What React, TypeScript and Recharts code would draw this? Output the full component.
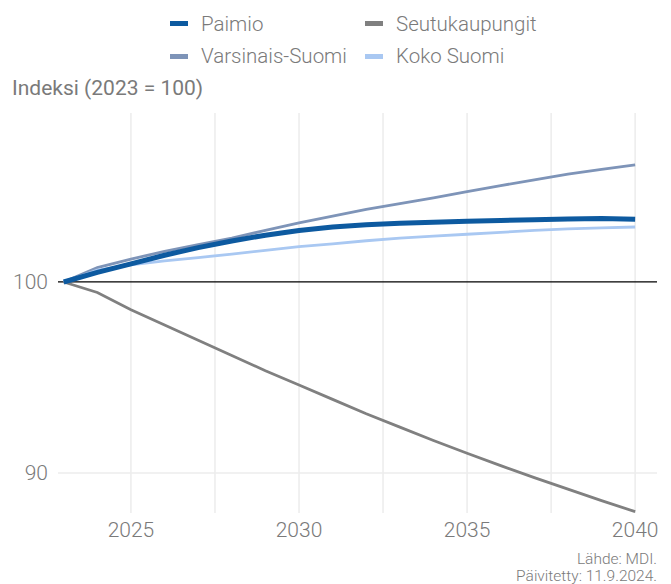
import React from "react";
import { LineChart, Line, XAxis, YAxis, ReferenceLine } from "recharts";

const years = [2023, 2024, 2025, 2026, 2027, 2028, 2029, 2030, 2031, 2032, 2033, 2034, 2035, 2036, 2037, 2038, 2039, 2040];
const paimio = [100, 100.5, 100.95, 101.4, 101.8, 102.15, 102.45, 102.7, 102.88, 103.0, 103.08, 103.13, 103.18, 103.22, 103.26, 103.3, 103.33, 103.28];
const seutukaupungit = [100, 99.45, 98.55, 97.75, 96.95, 96.15, 95.35, 94.6, 93.85, 93.1, 92.4, 91.7, 91.03, 90.38, 89.75, 89.15, 88.55, 87.97];
const varsinaisSuomi = [100, 100.75, 101.2, 101.6, 101.95, 102.3, 102.7, 103.1, 103.45, 103.8, 104.1, 104.4, 104.73, 105.05, 105.35, 105.65, 105.9, 106.13];
const kokoSuomi = [100, 100.62, 100.9, 101.1, 101.28, 101.46, 101.66, 101.85, 102.0, 102.16, 102.3, 102.4, 102.5, 102.6, 102.7, 102.78, 102.83, 102.88];

const xTicks = [2025, 2030, 2035, 2040];
const xGrid = [2025, 2027.5, 2030, 2032.5, 2035, 2037.5, 2040];
const yTicks = [90, 100];

const series = [
  { key: "paimio", name: "Paimio", color: "#0d5aa0" },
  { key: "seutukaupungit", name: "Seutukaupungit", color: "#808080" },
  { key: "varsinaisSuomi", name: "Varsinais-Suomi", color: "#7e94b8" },
  { key: "kokoSuomi", name: "Koko Suomi", color: "#a9c8f2" },
];

const data = years.map((y, i) => ({
  year: y,
  paimio: paimio[i],
  seutukaupungit: seutukaupungit[i],
  varsinaisSuomi: varsinaisSuomi[i],
  kokoSuomi: kokoSuomi[i],
}));

const FONT = "Roboto, 'Noto Sans', sans-serif";
const TXT = "#7a7a7a";

export default function App() {
  return (
    <div style={{ position: "absolute", left: 0, top: 0, width: 671, height: 584, background: "#fff", fontFamily: FONT, fontWeight: 300 }}>
      <LineChart width={671} height={584} data={data} margin={{ top: 113, right: 14, bottom: 41, left: 8 }}>
        <XAxis
          dataKey="year"
          type="number"
          domain={[2022.83, 2040.65]}
          ticks={xTicks}
          allowDataOverflow
          axisLine={false}
          tickLine={false}
          height={30}
          tick={{ fill: TXT, fontSize: 21, fontFamily: FONT, fontWeight: 300 }}
          tickMargin={3}
        />
        <YAxis
          type="number"
          domain={[87.9, 108.85]}
          ticks={yTicks}
          allowDataOverflow
          axisLine={false}
          tickLine={false}
          width={50}
          tick={{ fill: TXT, fontSize: 21, fontFamily: FONT, fontWeight: 300 }}
          tickMargin={4}
        />
        {xGrid.map((x) => (
          <ReferenceLine key={x} x={x} stroke="#ececec" strokeWidth={1.5} />
        ))}
        <ReferenceLine y={90} stroke="#ececec" strokeWidth={1.5} />
        <ReferenceLine y={100} stroke="#000" strokeWidth={1.3} />
        <Line dataKey="seutukaupungit" stroke="#808080" strokeWidth={2.8} dot={false} isAnimationActive={false} />
        <Line dataKey="varsinaisSuomi" stroke="#7e94b8" strokeWidth={2.8} dot={false} isAnimationActive={false} />
        <Line dataKey="kokoSuomi" stroke="#a9c8f2" strokeWidth={2.8} dot={false} isAnimationActive={false} />
        <Line dataKey="paimio" stroke="#0d5aa0" strokeWidth={5} dot={false} isAnimationActive={false} />
      </LineChart>
      {series.map((s, i) => {
        const col = i % 2;
        const row = Math.floor(i / 2);
        const left = col === 0 ? 170 : 365;
        const textTop = row === 0 ? 12 : 43.8;
        const swTop = row === 0 ? 21 : 53.5;
        return (
          <React.Fragment key={s.key}>
            <div style={{ position: "absolute", left, top: swTop, width: 18, height: 5, background: s.color }} />
            <div style={{ position: "absolute", left: left + 31, top: textTop, fontSize: 20.5, lineHeight: "24px", color: TXT, whiteSpace: "nowrap" }}>
              {s.name}
            </div>
          </React.Fragment>
        );
      })}
      <div style={{ position: "absolute", left: 12, top: 76, fontSize: 21, lineHeight: "24px", color: TXT, fontWeight: 400, whiteSpace: "nowrap" }}>
        Indeksi (2023 = 100)
      </div>
      <div style={{ position: "absolute", right: 14, top: 551, fontSize: 15.5, color: TXT, textAlign: "right", lineHeight: "17px", whiteSpace: "nowrap" }}>
        <div>Lähde: MDI.</div>
        <div>Päivitetty: 11.9.2024.</div>
      </div>
    </div>
  );
}
